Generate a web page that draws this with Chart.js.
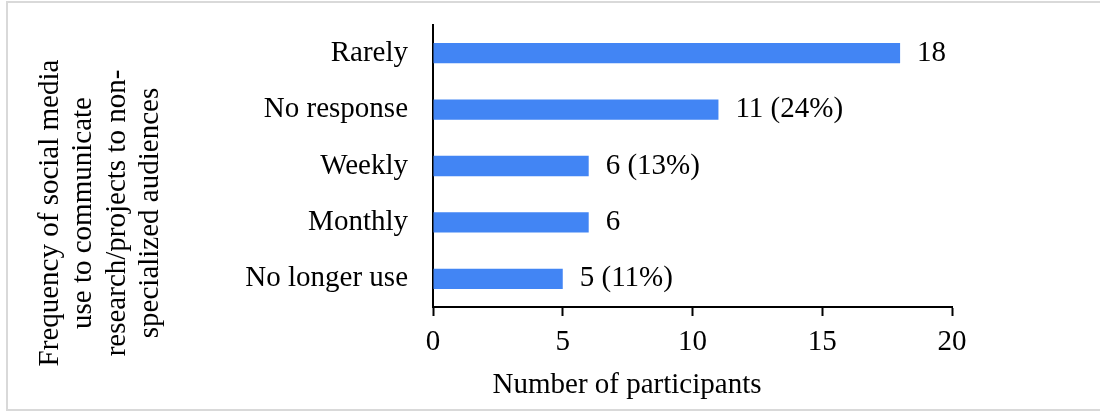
<!DOCTYPE html>
<html>
<head>
<meta charset="utf-8">
<script src="https://cdn.jsdelivr.net/npm/chart.js@4/dist/chart.umd.min.js"></script>
<style>
  html, body { margin: 0; padding: 0; background: #fff; overflow: hidden; width: 1100px; height: 412px; }
  #frame { position: absolute; left: 6px; top: 1px; width: 1200px; height: 410px; box-sizing: border-box; border: 2px solid #d9d9d9; }
  #chart { position: absolute; left: 0; top: 0; }
</style>
</head>
<body>
<div id="frame"></div>
<canvas id="chart" width="1100" height="412"></canvas>
<script>
// Survey responses: how often social media is used to reach non-specialized audiences
const categories = ['Rarely', 'No response', 'Weekly', 'Monthly', 'No longer use'];
const participants = [18, 11, 6, 6, 5];
const percentShown = [null, 24, 13, null, 11];   // share printed next to some bars
const xTicks = [0, 5, 10, 15, 20];
const yTitleLines = ['Frequency of social media', 'use to communicate', 'research/projects to non-', 'specialized audiences'];
const xTitle = 'Number of participants';

const FONT_FAMILY = "'Liberation Serif', 'Times New Roman', serif";
const FONT_SIZE = 29;
const INK = '#000';

// Count (and percentage where given) written to the right of each bar
const valueLabels = {
  id: 'valueLabels',
  afterDatasetsDraw(chart) {
    const ctx = chart.ctx;
    const meta = chart.getDatasetMeta(0);
    ctx.save();
    ctx.font = FONT_SIZE + 'px ' + FONT_FAMILY;
    ctx.fillStyle = INK;
    ctx.textAlign = 'left';
    ctx.textBaseline = 'middle';
    meta.data.forEach((bar, i) => {
      const pct = percentShown[i];
      const text = participants[i] + (pct != null ? ' (' + pct + '%)' : '');
      ctx.fillText(text, bar.x + 17, bar.y);
    });
    ctx.restore();
  }
};

// Axis titles: the rotated four-line category title and the value-axis title
const axisTitles = {
  id: 'axisTitles',
  afterDraw(chart) {
    const ctx = chart.ctx;
    ctx.save();
    ctx.font = FONT_SIZE + 'px ' + FONT_FAMILY;
    ctx.fillStyle = INK;
    ctx.textAlign = 'center';
    ctx.textBaseline = 'alphabetic';
    const o = chart.options.plugins.axisTitles;
    yTitleLines.forEach((line, i) => {
      ctx.save();
      ctx.translate(o.yBaseX + i * o.yLineGap, o.yCenter);
      ctx.rotate(-Math.PI / 2);
      ctx.fillText(line, 0, 0);
      ctx.restore();
    });
    ctx.fillText(xTitle, o.xCenter, o.xBaseY);
    ctx.restore();
  }
};

new Chart(document.getElementById('chart'), {
  type: 'bar',
  data: {
    labels: categories,
    datasets: [{
      data: participants,
      backgroundColor: '#4285f4',
      borderWidth: 0,
      categoryPercentage: 1,
      barPercentage: 0.36
    }]
  },
  options: {
    indexAxis: 'y',
    responsive: false,
    animation: false,
    devicePixelRatio: 1,
    layout: { padding: { left: 0, top: 25, right: 148, bottom: 0 } },
    plugins: {
      legend: { display: false },
      tooltip: { enabled: false },
      axisTitles: { yBaseX: 58, yLineGap: 33.3, yCenter: 213, xCenter: 627, xBaseY: 393 }
    },
    scales: {
      x: {
        min: xTicks[0],
        max: xTicks[xTicks.length - 1],
        afterFit(scale) { scale.height = 105; },
        afterBuildTicks(scale) { scale.ticks = xTicks.map(v => ({ value: v })); },
        grid: {
          display: true,
          drawOnChartArea: false,
          drawTicks: true,
          tickLength: 9,
          tickWidth: 2,
          tickColor: INK
        },
        border: { display: true, color: INK, width: 2 },
        ticks: {
          color: INK,
          padding: 9,
          maxRotation: 0,
          font: { family: FONT_FAMILY, size: FONT_SIZE }
        }
      },
      y: {
        afterFit(scale) {
          scale.width = 433;
          scale.paddingTop = 0;
          scale.paddingBottom = 0;
        },
        grid: { display: false, drawTicks: false },
        border: { display: true, color: INK, width: 2 },
        ticks: {
          color: INK,
          padding: 25,
          font: { family: FONT_FAMILY, size: FONT_SIZE }
        }
      }
    }
  },
  plugins: [valueLabels, axisTitles]
});
</script>
</body>
</html>
